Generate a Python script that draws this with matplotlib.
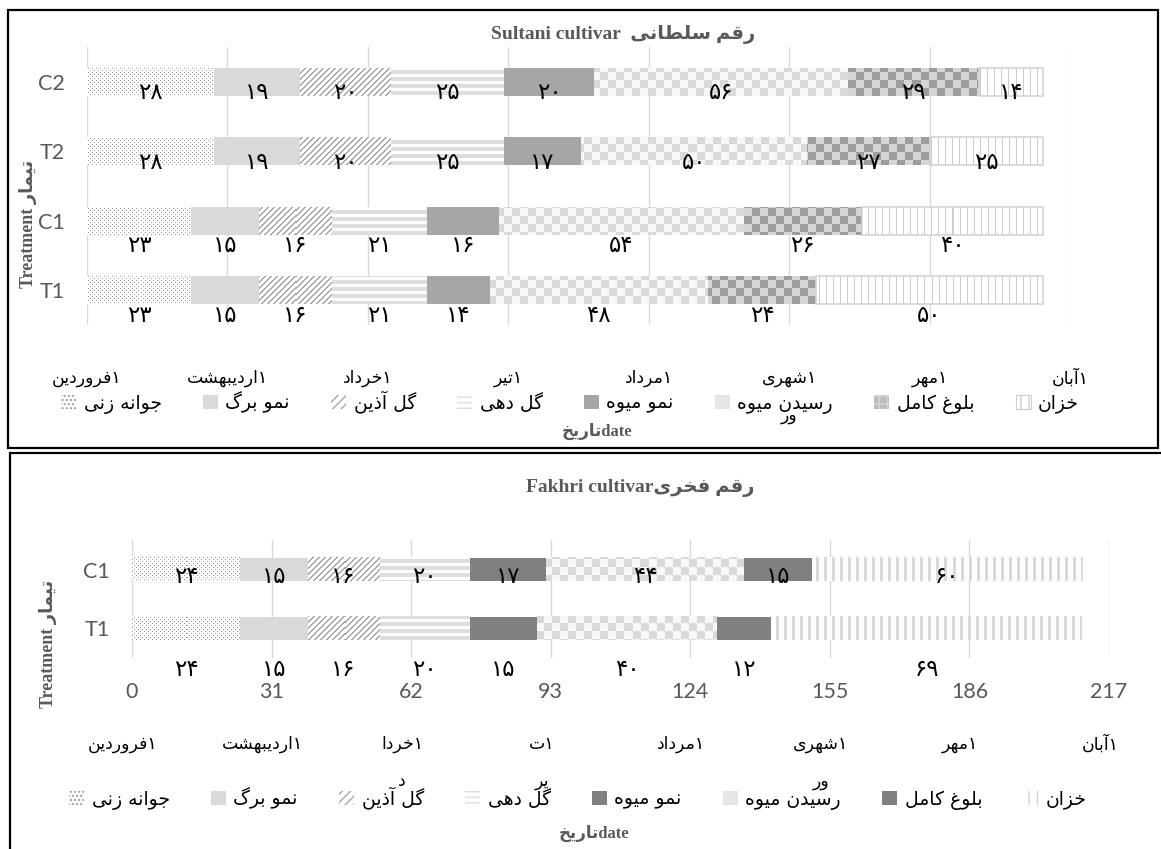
import numpy as np
import matplotlib
matplotlib.use('Agg')
import matplotlib.pyplot as plt
from matplotlib.patches import Patch, Rectangle
from matplotlib.colors import to_rgb
from matplotlib.transforms import blended_transform_factory

# phenological stages, in order along each bar
stages = ['جوانه زنی', 'نمو برگ', 'گل آذین', 'گل دهی',
          'نمو میوه', 'رسیدن میوه', 'بلوغ کامل', 'خزان']

# Sultani cultivar, days spent in each stage
sultani_rows = ['C2', 'T2', 'C1', 'T1']
sultani_c2 = [28, 19, 20, 25, 20, 56, 29, 14]
sultani_t2 = [28, 19, 20, 25, 17, 50, 27, 25]
sultani_c1 = [23, 15, 16, 21, 16, 54, 26, 40]
sultani_t1 = [23, 15, 16, 21, 14, 48, 24, 50]

# Fakhri cultivar
fakhri_rows = ['C1', 'T1']
fakhri_c1 = [24, 15, 16, 20, 17, 44, 15, 60]
fakhri_t1 = [24, 15, 16, 20, 15, 40, 12, 69]

day_ticks = [0, 31, 62, 93, 124, 155, 186, 217]
months_sultani = ['فروردین', 'اردیبهشت', 'خرداد', 'تیر', 'مرداد', 'شهری\nور', 'مهر', 'آبان']
months_fakhri = ['فروردین', 'اردیبهشت', 'خردا\nد', 'ت\nیر', 'مرداد', 'شهری\nور', 'مهر', 'آبان']

# ---- minimal Persian shaping (matplotlib draws left to right, unshaped) ----
FORMS = {
    'ا': (0xFE8D, 0xFE8E, None, None), 'آ': (0xFE81, 0xFE82, None, None),
    'ب': (0xFE8F, 0xFE90, 0xFE91, 0xFE92), 'پ': (0xFB56, 0xFB57, 0xFB58, 0xFB59),
    'ت': (0xFE95, 0xFE96, 0xFE97, 0xFE98), 'ج': (0xFE9D, 0xFE9E, 0xFE9F, 0xFEA0),
    'خ': (0xFEA5, 0xFEA6, 0xFEA7, 0xFEA8), 'د': (0xFEA9, 0xFEAA, None, None),
    'ذ': (0xFEAB, 0xFEAC, None, None), 'ر': (0xFEAD, 0xFEAE, None, None),
    'ز': (0xFEAF, 0xFEB0, None, None), 'س': (0xFEB1, 0xFEB2, 0xFEB3, 0xFEB4),
    'ش': (0xFEB5, 0xFEB6, 0xFEB7, 0xFEB8), 'ط': (0xFEC1, 0xFEC2, 0xFEC3, 0xFEC4),
    'غ': (0xFECD, 0xFECE, 0xFECF, 0xFED0), 'ف': (0xFED1, 0xFED2, 0xFED3, 0xFED4),
    'ق': (0xFED5, 0xFED6, 0xFED7, 0xFED8), 'ک': (0xFB8E, 0xFB8F, 0xFB90, 0xFB91),
    'گ': (0xFB92, 0xFB93, 0xFB94, 0xFB95), 'ل': (0xFEDD, 0xFEDE, 0xFEDF, 0xFEE0),
    'م': (0xFEE1, 0xFEE2, 0xFEE3, 0xFEE4), 'ن': (0xFEE5, 0xFEE6, 0xFEE7, 0xFEE8),
    'ه': (0xFEE9, 0xFEEA, 0xFEEB, 0xFEEC), 'و': (0xFEED, 0xFEEE, None, None),
    'ی': (0xFBFC, 0xFBFD, 0xFBFE, 0xFBFF),
}


def rtl(text):
    text = text.replace('\u064A', '\u06CC').replace('\u0643', '\u06A9')
    out = []
    for i, ch in enumerate(text):
        if ch not in FORMS:
            out.append(ch)
            continue
        prev = text[i - 1] if i > 0 else ''
        nxt = text[i + 1] if i + 1 < len(text) else ''
        iso, fin, ini, med = FORMS[ch]
        jp = prev in FORMS and FORMS[prev][2] is not None
        jn = ini is not None and nxt in FORMS
        if jp and jn:
            out.append(chr(med))
        elif jp:
            out.append(chr(fin))
        elif jn:
            out.append(chr(ini))
        else:
            out.append(chr(iso))
    return ''.join(out)[::-1]


def fa(n):
    return str(n).translate(str.maketrans('0123456789', '۰۱۲۳۴۵۶۷۸۹'))


# ---- fill patterns, in device pixels so neighbouring bars line up ----
def pattern(style, X, Y):
    if style == 'dots':
        return '#9c9c9c', '#ffffff', ((Y % 4 == 0) & (X % 4 == 0)) | ((Y % 4 == 2) & (X % 4 == 2))
    if style == 'diag':
        return '#a8a8a8', '#ffffff', (X + Y) % 6 < 2
    if style == 'hstripe':
        return '#dedede', '#ffffff', Y % 7 < 4
    if style == 'checker':
        return '#d9d9d9', '#f8f8f8', (X // 8 + Y // 8) % 2 == 0
    if style == 'darkchecker':
        return '#9d9d9d', '#d6d6d6', (X // 8 + Y // 8) % 2 == 0
    if style == 'vbox':
        return '#cccccc', '#ffffff', X % 7 == 0
    if style == 'vthick':
        return '#dadada', '#ffffff', X % 8 < 3
    raise ValueError(style)


W, H = 1161, 849
fig = plt.figure(figsize=(W / 100, H / 100), dpi=100)


def fx(px):
    return px / W


def fy(py):
    return 1 - py / H


def fill_bar(ax, bar, style):
    if style.startswith('#'):
        bar.set_facecolor(style)
        return
    x0, y0 = bar.get_x(), bar.get_y()
    x1, y1 = x0 + bar.get_width(), y0 + bar.get_height()
    px0, py0 = ax.transData.transform((x0, y0))
    px1, py1 = ax.transData.transform((x1, y1))
    w = max(1, int(round(px1 - px0)))
    h = max(1, int(round(py1 - py0)))
    X, Y = np.meshgrid(np.arange(w) + int(round(px0)), np.arange(h) + int(round(H - py1)))
    fg, bg, mask = pattern(style, X, Y)
    img = np.where(mask[..., None], np.array(to_rgb(fg)), np.array(to_rgb(bg)))
    ax.imshow(img, extent=(x0, x1, y0, y1), origin='upper', interpolation='nearest',
              aspect='auto', zorder=2)
    if style == 'vbox':
        bar.set_edgecolor('#d4d4d4')
        bar.set_linewidth(1.2)


def setup(ax, rows, show_days):
    n = len(rows)
    ax.set_xlim(0, 217)
    ax.set_ylim(-0.5, n - 0.5)
    ax.set_xticks(day_ticks)
    ax.set_yticks(np.arange(n)[::-1])
    ax.set_yticklabels(rows, family=['Lato', 'DejaVu Sans'])
    if show_days:
        ax.set_xticklabels([str(d) for d in day_ticks], family=['Lato', 'DejaVu Sans'])
    else:
        ax.set_xticklabels([])
    for s in ax.spines.values():
        s.set_visible(False)
    ax.grid(axis='x', color='#d9d9d9', lw=1)
    ax.set_axisbelow(True)
    ax.tick_params(length=0, colors='#595959', labelsize=15.5)
    ax.tick_params(axis='y', pad=16)
    ax.tick_params(axis='x', pad=17)


def draw_panel(ax, rows, series, styles, label_dy):
    n = len(rows)
    ypos = np.arange(n)[::-1]
    vals = np.array(series)
    left = np.zeros(n)
    for k in range(vals.shape[1]):
        bars = ax.barh(ypos, vals[:, k], left=left, height=0.4, facecolor='none',
                       edgecolor='none', lw=0, zorder=3)
        for b, v, dy in zip(bars, vals[:, k], label_dy):
            fill_bar(ax, b, styles[k])
            ax.annotate(fa(v), (b.get_x() + v / 2, b.get_y() + b.get_height() / 2),
                        xytext=(0, -dy * 0.72), textcoords='offset points',
                        ha='center', va='center', fontsize=16.5, family='DejaVu Sans',
                        color='black', zorder=5)
        left += vals[:, k]
    ax.set_xlim(0, 217)
    ax.set_ylim(-0.5, n - 0.5)


def month_labels(ax, names, y_px, dx=0):
    tr = blended_transform_factory(ax.transData, fig.transFigure)
    for d, name in zip(day_ticks, names):
        lines = name.split('\n')
        for k, line in enumerate(lines):
            txt = rtl(line) + ('۱' if k == 0 else '')
            ax.text(d + dx, fy(y_px + 37 * k), txt, transform=tr, ha='center', va='center',
                    fontsize=12.5, family='DejaVu Sans', color='black', clip_on=False)


serif = ['Liberation Serif', 'DejaVu Sans']
grey = '#595959'

# ---------------- Sultani ----------------
ax1 = fig.add_axes([fx(87), fy(325), (1070 - 87) / W, (325 - 47) / H])
setup(ax1, sultani_rows, False)
styles_sultani = ['dots', '#d9d9d9', 'diag', 'hstripe', '#a6a6a6', 'checker', 'darkchecker', 'vbox']
draw_panel(ax1, sultani_rows, [sultani_c2, sultani_t2, sultani_c1, sultani_t1],
           styles_sultani, [11, 11, 25, 25])
month_labels(ax1, months_sultani, 378)

fig.text(fx(623), fy(35), 'Sultani cultivar  ' + rtl('رقم سلطانی'), ha='center', va='center',
         fontsize=14, fontweight='bold', color=grey, family=serif)
fig.text(fx(28), fy(224), 'Treatment ' + rtl('تیمار'), rotation=90, ha='center', va='center',
         fontsize=13, fontweight='bold', color=grey, family=serif)
fig.text(fx(597), fy(431), rtl('تاریخ') + 'date', ha='center', va='center',
         fontsize=12, fontweight='bold', color=grey, family=serif)

handles_sultani = [
    Patch(facecolor='white', edgecolor='#9c9c9c', hatch='....', lw=0),
    Patch(facecolor='#d9d9d9', lw=0),
    Patch(facecolor='white', edgecolor='#a8a8a8', hatch='////', lw=0),
    Patch(facecolor='white', edgecolor='#dedede', hatch='---', lw=0),
    Patch(facecolor='#a6a6a6', lw=0),
    Patch(facecolor='#e6e6e6', lw=0),
    Patch(facecolor='#bdbdbd', edgecolor='#d6d6d6', hatch='++', lw=0),
    Patch(facecolor='white', edgecolor='#cfcfcf', hatch='||', lw=0.8),
]
fig.legend(handles_sultani, [rtl(s) for s in stages], loc='center',
           bbox_to_anchor=(fx(570), fy(402)), ncol=8, frameon=False,
           prop={'family': 'DejaVu Sans', 'size': 13.5}, handlelength=0.8, handleheight=0.8,
           handletextpad=0.4, columnspacing=2.2)

# ---------------- Fakhri ----------------
ax2 = fig.add_axes([fx(132), fy(658), (1109 - 132) / W, (658 - 540) / H])
setup(ax2, fakhri_rows, True)
styles_fakhri = ['dots', '#d9d9d9', 'diag', 'hstripe', '#808080', 'checker', '#808080', 'vthick']
draw_panel(ax2, fakhri_rows, [fakhri_c1, fakhri_t1], styles_fakhri, [7, 41])
month_labels(ax2, months_fakhri, 744, dx=-2)

fig.text(fx(640), fy(488), 'Fakhri cultivar' + rtl('رقم فخری'), ha='center', va='center',
         fontsize=14, fontweight='bold', color=grey, family=serif)
fig.text(fx(48), fy(644), 'Treatment ' + rtl('تیمار'), rotation=90, ha='center', va='center',
         fontsize=13, fontweight='bold', color=grey, family=serif)
fig.text(fx(594), fy(833), rtl('تاریخ') + 'date', ha='center', va='center',
         fontsize=12, fontweight='bold', color=grey, family=serif)

handles_fakhri = [
    Patch(facecolor='white', edgecolor='#9c9c9c', hatch='....', lw=0),
    Patch(facecolor='#d9d9d9', lw=0),
    Patch(facecolor='white', edgecolor='#a8a8a8', hatch='////', lw=0),
    Patch(facecolor='white', edgecolor='#dedede', hatch='---', lw=0),
    Patch(facecolor='#808080', lw=0),
    Patch(facecolor='#e6e6e6', lw=0),
    Patch(facecolor='#808080', lw=0),
    Patch(facecolor='white', edgecolor='#d4d4d4', hatch='||', lw=0),
]
fig.legend(handles_fakhri, [rtl(s) for s in stages], loc='center',
           bbox_to_anchor=(fx(578), fy(798)), ncol=8, frameon=False,
           prop={'family': 'DejaVu Sans', 'size': 13.5}, handlelength=0.8, handleheight=0.8,
           handletextpad=0.4, columnspacing=2.2)

# boxes round the two panels
fig.add_artist(Rectangle((fx(8), fy(448)), fx(1158) - fx(8), fy(10) - fy(448),
                         transform=fig.transFigure, fill=False, ec='black', lw=1.6))
fig.add_artist(Rectangle((fx(10), fy(880)), fx(1200) - fx(10), fy(453) - fy(880),
                         transform=fig.transFigure, fill=False, ec='black', lw=1.6))

fig.savefig('out.png', dpi=100)
